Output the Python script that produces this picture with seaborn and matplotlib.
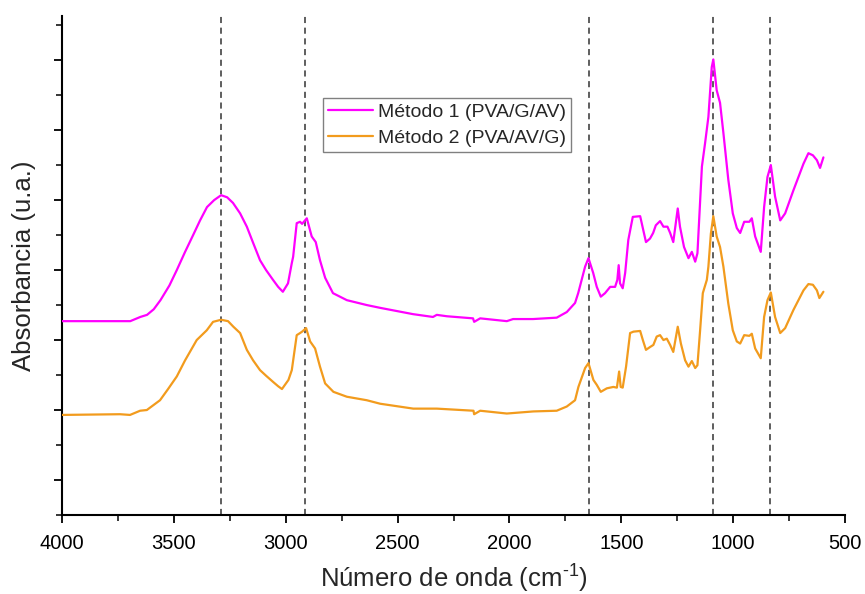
import numpy as np
import pandas as pd
import matplotlib
matplotlib.use("Agg")
import matplotlib.pyplot as plt
from matplotlib.ticker import MultipleLocator, NullFormatter
import seaborn as sns

# ---- data ----
wn_m1 = [4000, 3830, 3695, 3650, 3620, 3590, 3560, 3520, 3487, 3450, 3414, 3383, 3352, 3320,
         3289, 3262, 3236, 3204, 3174, 3146, 3115, 3088, 3057, 3034,
         3013, 2990, 2973, 2967, 2951, 2936, 2927, 2906, 2884, 2866, 2847, 2824, 2789, 2727,
         2638, 2578, 2431, 2342, 2325, 2280, 2163, 2158, 2131, 2012, 1984, 1895, 1789, 1744,
         1707, 1693, 1662, 1647, 1626, 1610, 1592, 1573, 1550, 1528, 1518, 1512, 1506, 1494,
         1483, 1469, 1449, 1416, 1402, 1390, 1372, 1358, 1346, 1327, 1312, 1294, 1282, 1268,
         1248, 1238, 1220, 1200, 1185, 1170, 1160, 1140, 1126, 1111, 1096, 1089, 1074, 1059,
         1044, 1022, 1002, 984, 969, 951, 928, 917, 902, 877, 862, 847, 832, 813, 790, 768,
         731, 686, 664, 644, 626, 612, 597]
abs_m1 = [2.77, 2.77, 2.77, 2.83, 2.86, 2.94, 3.07, 3.28, 3.50, 3.76, 4.00, 4.21, 4.40, 4.50,
          4.57, 4.54, 4.46, 4.31, 4.12, 3.89, 3.64, 3.50, 3.36, 3.26,
          3.19, 3.31, 3.60, 3.69, 4.17, 4.19, 4.16, 4.24, 3.98, 3.90, 3.64, 3.39, 3.17, 3.07,
          3.00, 2.96, 2.87, 2.83, 2.86, 2.84, 2.81, 2.76, 2.81, 2.77, 2.80, 2.80, 2.82, 2.90,
          3.03, 3.17, 3.55, 3.67, 3.46, 3.26, 3.12, 3.17, 3.26, 3.26, 3.36, 3.57, 3.31, 3.24,
          3.46, 3.93, 4.26, 4.27, 4.07, 3.90, 3.95, 4.03, 4.14, 4.20, 4.12, 4.12, 4.03, 3.90,
          4.38, 4.12, 3.83, 3.67, 3.76, 3.62, 3.74, 4.98, 5.31, 5.69, 6.40, 6.51, 6.07, 5.89,
          5.46, 4.79, 4.31, 4.10, 4.03, 4.19, 4.19, 4.24, 3.98, 3.76, 4.40, 4.83, 5.00, 4.55,
          4.21, 4.31, 4.64, 5.02, 5.17, 5.14, 5.07, 4.96, 5.11]

wn_m2 = [4000, 3741, 3696, 3651, 3621, 3562, 3526, 3487, 3450, 3398, 3353, 3325, 3289, 3258,
         3234, 3204, 3174, 3146, 3115, 3088, 3056, 3034,
         3017, 2988, 2973, 2951, 2936, 2927, 2909, 2891, 2869, 2847, 2824, 2787, 2727, 2638,
         2578, 2430, 2325, 2161, 2158, 2131, 2012, 1893, 1789, 1744, 1707, 1692, 1662, 1647,
         1625, 1610, 1592, 1565, 1536, 1520, 1510, 1503, 1494, 1479, 1461, 1446, 1416, 1404,
         1390, 1372, 1357, 1342, 1327, 1312, 1297, 1282, 1268, 1248, 1234, 1215, 1200, 1185,
         1170, 1160, 1148, 1136, 1118, 1111, 1100, 1089, 1074, 1059, 1044, 1022, 1002, 984,
         969, 951, 928, 917, 902, 877, 862, 847, 832, 813, 790, 768, 731, 686, 664, 644, 626,
         615, 597]
abs_m2 = [1.43, 1.44, 1.43, 1.49, 1.50, 1.64, 1.80, 1.98, 2.21, 2.50, 2.64, 2.76, 2.79, 2.77,
          2.69, 2.60, 2.36, 2.21, 2.07, 1.99, 1.90, 1.84,
          1.80, 1.93, 2.07, 2.57, 2.60, 2.62, 2.67, 2.48, 2.38, 2.12, 1.88, 1.76, 1.69, 1.64,
          1.59, 1.52, 1.52, 1.49, 1.44, 1.49, 1.45, 1.48, 1.49, 1.55, 1.64, 1.83, 2.10, 2.17,
          1.93, 1.86, 1.76, 1.81, 1.83, 1.82, 2.05, 1.83, 1.82, 2.12, 2.60, 2.62, 2.63, 2.50,
          2.36, 2.40, 2.43, 2.55, 2.57, 2.50, 2.52, 2.43, 2.33, 2.69, 2.45, 2.21, 2.12, 2.20,
          2.10, 2.14, 2.64, 3.17, 3.36, 3.55, 4.02, 4.27, 3.98, 3.83, 3.55, 3.02, 2.64, 2.48,
          2.45, 2.57, 2.56, 2.59, 2.38, 2.24, 2.83, 3.07, 3.18, 2.83, 2.60, 2.67, 2.93, 3.21,
          3.30, 3.29, 3.21, 3.10, 3.19]

series_labels = ["Método 1 (PVA/G/AV)", "Método 2 (PVA/AV/G)"]
series_colors = ["#FF00FF", "#F29B1D"]
peak_lines = [3290, 2915, 1645, 1090, 835]
x_ticks = [4000, 3500, 3000, 2500, 2000, 1500, 1000, 500]

df = pd.concat([
    pd.DataFrame({"wn": wn_m1, "A": abs_m1, "serie": series_labels[0]}),
    pd.DataFrame({"wn": wn_m2, "A": abs_m2, "serie": series_labels[1]}),
], ignore_index=True)

sns.set_style("ticks")
plt.rcParams["font.family"] = ["Liberation Sans", "DejaVu Sans"]
plt.rcParams["mathtext.fontset"] = "custom"
plt.rcParams["mathtext.rm"] = "Liberation Sans"
plt.rcParams["mathtext.default"] = "regular"

fig = plt.figure(figsize=(8.65, 5.94), dpi=100)
ax = fig.add_axes([0.0717, 0.133, 0.9053, 0.840])

for xv in peak_lines:
    ax.axvline(xv, color="#333333", linestyle=(0, (4, 3)), linewidth=1.1, zorder=1)

sns.lineplot(data=df, x="wn", y="A", hue="serie", palette=series_colors,
             sort=False, estimator=None, linewidth=1.6, ax=ax, zorder=3)

ax.set_xlim(4000, 500)
ax.set_ylim(0, 7.13)
ax.set_xticks(x_ticks)
ax.xaxis.set_minor_locator(MultipleLocator(250))
ax.yaxis.set_major_locator(MultipleLocator(1.0, offset=0.5))
ax.yaxis.set_minor_locator(MultipleLocator(1.0))
ax.yaxis.set_major_formatter(NullFormatter())

for s in ["top", "right"]:
    ax.spines[s].set_visible(False)
for s in ["left", "bottom"]:
    ax.spines[s].set_linewidth(1.5)
    ax.spines[s].set_color("black")

ax.tick_params(axis="both", which="major", direction="out", length=6, width=1.3,
               labelsize=14.5, colors="black")
ax.tick_params(axis="x", which="major", pad=8)
ax.tick_params(axis="both", which="minor", direction="out", length=4, width=1.3)

ax.set_xlabel("Número de onda (cm$^{\\text{-1}}$)", fontsize=18.5, labelpad=7)
ax.set_ylabel("Absorbancia (u.a.)", fontsize=18.5, labelpad=9)

leg = ax.legend(loc="upper left", bbox_to_anchor=(0.333, 0.836), fontsize=14,
                frameon=True, fancybox=False, edgecolor="#808080", framealpha=1,
                borderpad=0.27, handlelength=2.3, handletextpad=0.26, labelspacing=0.44,
                borderaxespad=0)
leg.get_frame().set_linewidth(1.0)
for line in leg.get_lines():
    line.set_linewidth(1.6)

fig.savefig("out.png", dpi=100)
